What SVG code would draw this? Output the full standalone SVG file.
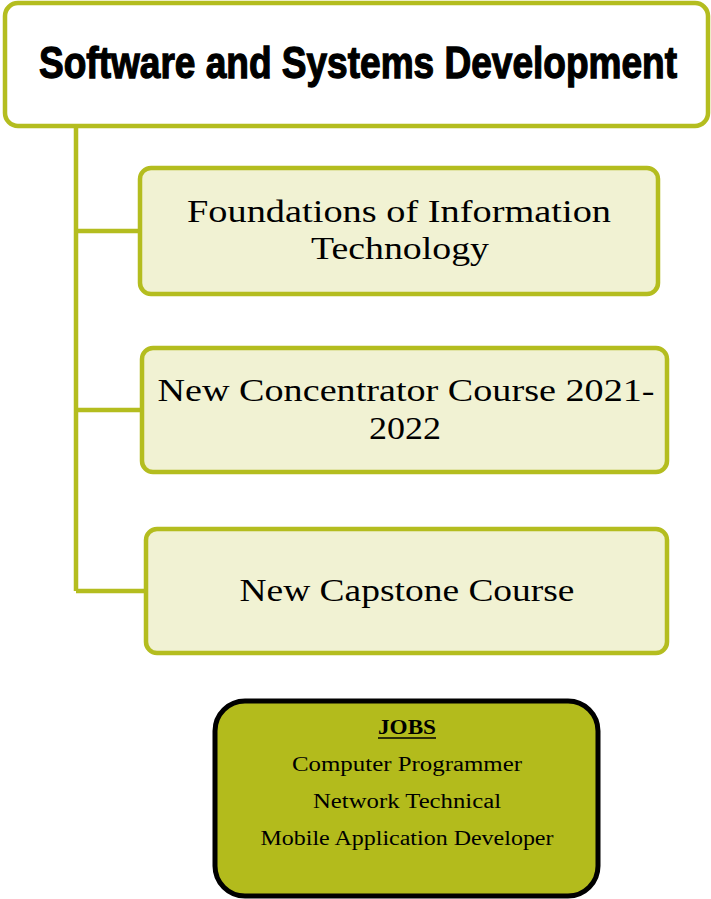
<svg xmlns="http://www.w3.org/2000/svg" width="711" height="899" viewBox="0 0 711 899">
<style>
.box{fill:#f1f2d3;stroke:#b4bd1f;stroke-width:4.5}
.conn{stroke:#b4bd1f;stroke-width:4.5;fill:none}
.t{font-family:"Liberation Serif",serif;font-size:32px;fill:#000;text-anchor:middle}
.j{font-family:"Liberation Serif",serif;font-size:20px;fill:#000;text-anchor:middle}
</style>
<rect width="711" height="899" fill="#fff"/>
<g id="connectors">
<path class="conn" d="M76 127 V591 M76 231 H140 M76 410 H142 M76 591 H146"/>
</g>
<g id="title">
<rect x="5" y="3" width="703" height="123" rx="13" fill="#fff" stroke="#b4bd1f" stroke-width="4.5"/>
<text transform="translate(358,78) scale(1,1.18)" x="0" y="0" font-family="Liberation Sans,sans-serif" font-weight="bold" font-size="38" stroke="#000" stroke-width="1.1" text-anchor="middle" textLength="638" lengthAdjust="spacingAndGlyphs">Software and Systems Development</text>
</g>
<g id="node1">
<rect class="box" x="140" y="168" width="518" height="126" rx="11"/>
<text class="t" x="399" y="222" textLength="424" lengthAdjust="spacingAndGlyphs">Foundations of  Information</text>
<text class="t" x="400" y="259" textLength="178" lengthAdjust="spacingAndGlyphs">Technology</text>
</g>
<g id="node2">
<rect class="box" x="142" y="348" width="525" height="124" rx="11"/>
<text class="t" x="406" y="401" textLength="497" lengthAdjust="spacingAndGlyphs">New Concentrator Course 2021-</text>
<text class="t" x="405" y="439" textLength="72" lengthAdjust="spacingAndGlyphs">2022</text>
</g>
<g id="node3">
<rect class="box" x="146" y="529" width="521" height="124" rx="11"/>
<text class="t" x="407" y="601" textLength="335" lengthAdjust="spacingAndGlyphs">New Capstone Course</text>
</g>
<g id="jobs">
<rect x="215" y="701" width="383" height="195" rx="30" fill="#b3bb1c" stroke="#000" stroke-width="5"/>
<text class="j" x="407" y="734" font-weight="bold" textLength="58" lengthAdjust="spacingAndGlyphs">JOBS</text>
<line x1="378" y1="738" x2="436" y2="738" stroke="#000" stroke-width="1.5"/>
<text class="j" x="407" y="771" textLength="230" lengthAdjust="spacingAndGlyphs">Computer Programmer</text>
<text class="j" x="407" y="808" textLength="188" lengthAdjust="spacingAndGlyphs">Network Technical</text>
<text class="j" x="407" y="845" textLength="293" lengthAdjust="spacingAndGlyphs">Mobile Application Developer</text>
</g>
</svg>
